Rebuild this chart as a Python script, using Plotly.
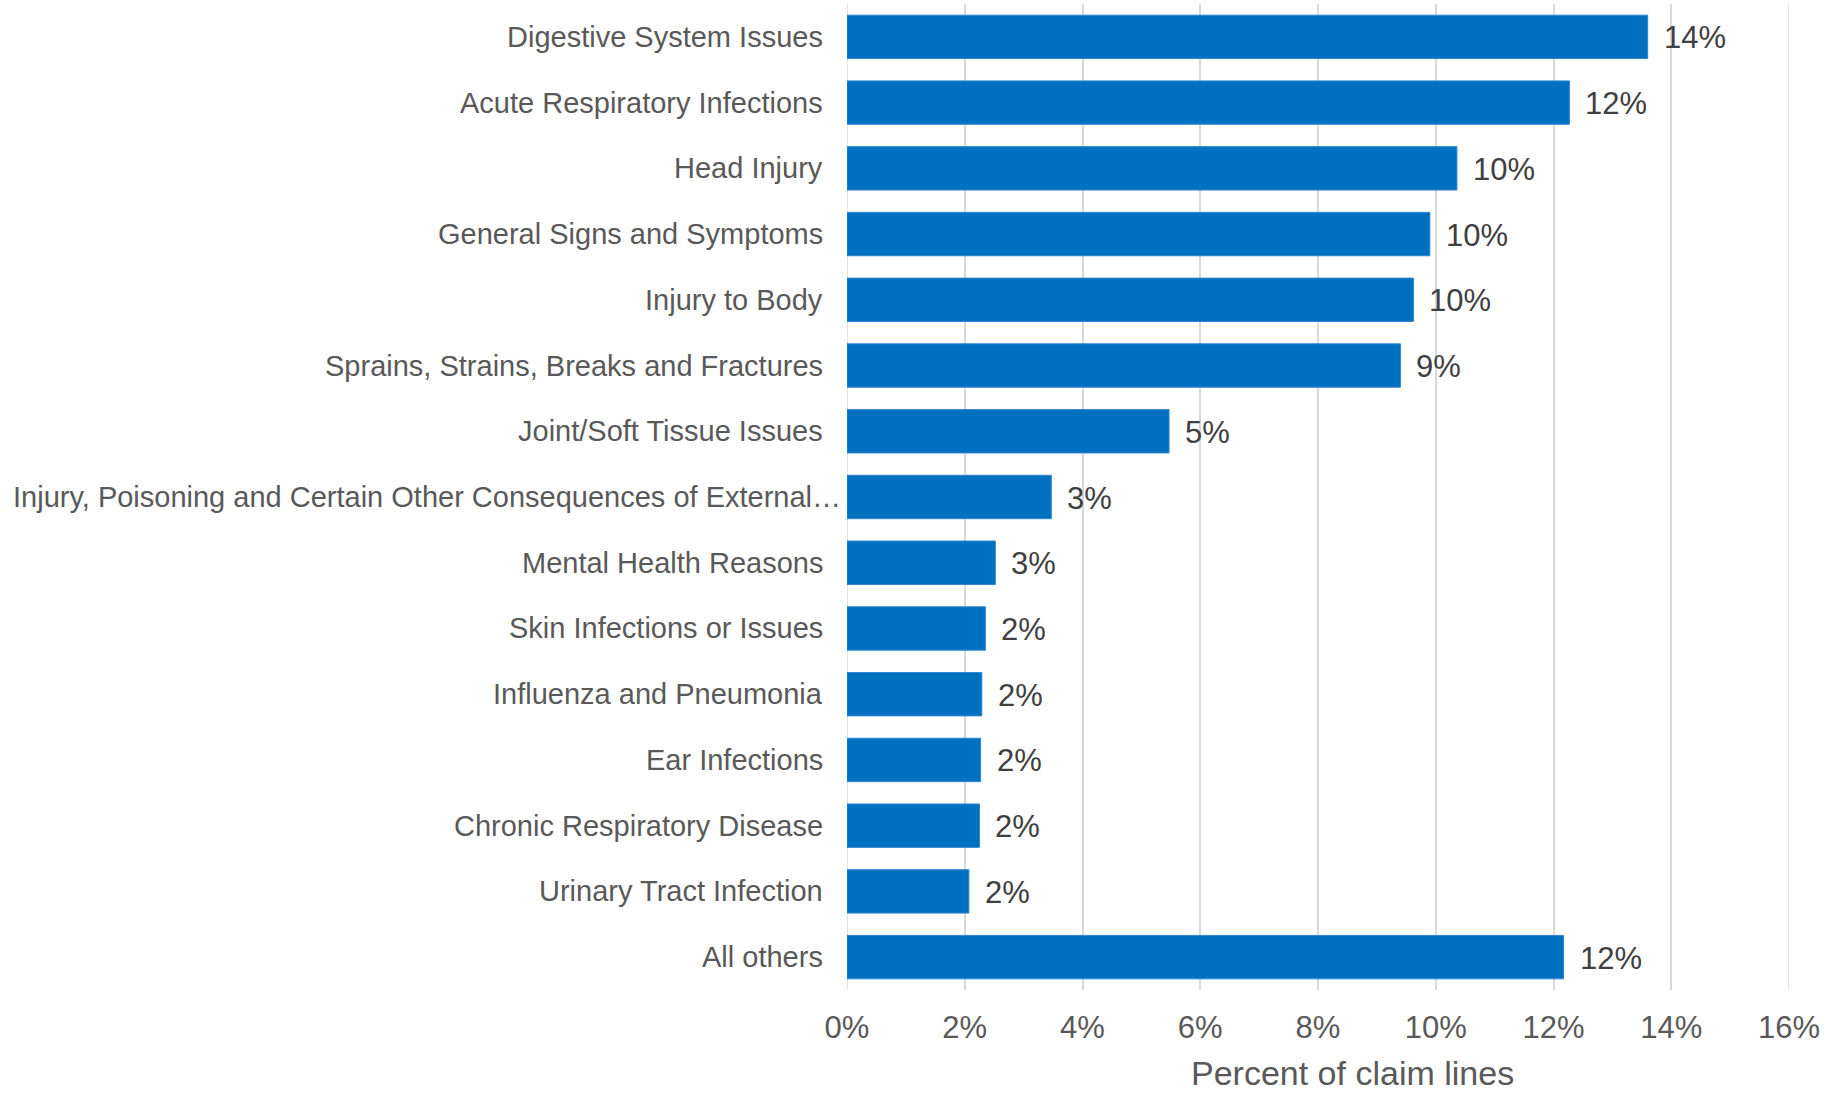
import plotly.graph_objects as go

categories = [
    "Digestive System Issues",
    "Acute Respiratory Infections",
    "Head Injury",
    "General Signs and Symptoms",
    "Injury to Body",
    "Sprains, Strains, Breaks and Fractures",
    "Joint/Soft Tissue Issues",
    "Injury, Poisoning and Certain Other Consequences of External\u2026",
    "Mental Health Reasons",
    "Skin Infections or Issues",
    "Influenza and Pneumonia",
    "Ear Infections",
    "Chronic Respiratory Disease",
    "Urinary Tract Infection",
    "All others",
]
# share of claim lines, in percent
values = [13.60, 12.27, 10.36, 9.90, 9.62, 9.40, 5.47, 3.47, 2.52, 2.35, 2.29, 2.27, 2.25, 2.07, 12.17]
x_ticks = [0, 2, 4, 6, 8, 10, 12, 14, 16]
x_tick_labels = [f"{t}%" for t in x_ticks]

FONT = "Liberation Sans, Arial, sans-serif"
LABEL_GREY = "#595959"
VALUE_GREY = "#404040"
GRID = "#D9D9D9"

fig = go.Figure(
    go.Bar(
        x=values,
        y=categories,
        orientation="h",
        marker=dict(color="#0070C0", line=dict(color="#2E86D1", width=1)),
        width=0.66,
        hoverinfo="x+y",
    )
)

# gridlines at both ends of the value axis
for edge in (x_ticks[0], x_ticks[-1]):
    fig.add_shape(
        type="line", xref="x", yref="paper",
        x0=edge, x1=edge, y0=0, y1=1,
        line=dict(color=GRID, width=1.5), layer="below",
    )

# value labels to the right of each bar
for cat, v in zip(categories, values):
    fig.add_annotation(
        x=v, y=cat, xref="x", yref="y",
        text=f"{int(v + 0.5)}%", showarrow=False,
        xanchor="left", yanchor="middle", xshift=14, yshift=-1,
        font=dict(family=FONT, size=31, color=VALUE_GREY),
    )

# category labels on the left
for cat in categories:
    long_label = len(cat) > 45
    fig.add_annotation(
        x=-0.888 if long_label else 0, y=cat, xref="paper", yref="y",
        text=cat, showarrow=False,
        xanchor="left" if long_label else "right", yanchor="middle",
        xshift=0 if long_label else -22,
        font=dict(family=FONT, size=29, color=LABEL_GREY),
    )

# axis title, sitting right of centre under the tick labels
fig.add_annotation(
    x=0.537, y=0, xref="paper", yref="paper",
    text="Percent of claim lines", showarrow=False,
    xanchor="center", yanchor="bottom", yshift=-104,
    font=dict(family=FONT, size=34, color=LABEL_GREY),
)

fig.update_layout(
    width=1835,
    height=1096,
    margin=dict(l=847, r=46, t=4, b=106),
    paper_bgcolor="white",
    plot_bgcolor="white",
    showlegend=False,
    font=dict(family=FONT, color=LABEL_GREY),
    bargap=0.34,
)
fig.update_xaxes(
    range=[0, 16],
    tickvals=x_ticks,
    ticktext=x_tick_labels,
    showgrid=True,
    gridcolor=GRID,
    gridwidth=1.5,
    zeroline=False,
    ticks="outside",
    ticklen=10,
    tickcolor="rgba(0,0,0,0)",
    tickfont=dict(family=FONT, size=31, color=LABEL_GREY),
    fixedrange=True,
)
fig.update_yaxes(
    categoryorder="array",
    categoryarray=categories[::-1],
    showticklabels=False,
    showgrid=False,
    zeroline=False,
    fixedrange=True,
)

fig.write_html("out.html")
